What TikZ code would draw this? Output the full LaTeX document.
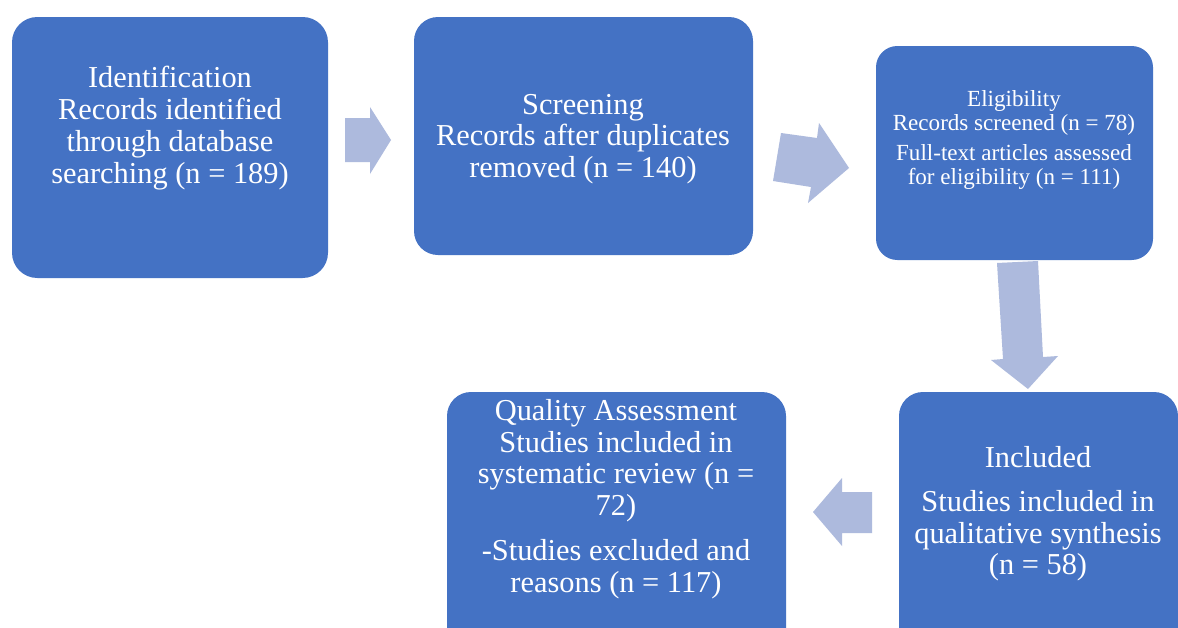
\documentclass[tikz,border=0pt]{standalone}
\usepackage{fontspec}
\setmainfont{Liberation Serif}
\usetikzlibrary{fit}
\definecolor{boxblue}{HTML}{4472C4}
\definecolor{arrowblue}{HTML}{ADBADD}
\begin{document}
\begin{tikzpicture}[x=0.75pt,y=-0.75pt,
  stagebox/.style={fill=boxblue, draw=none, inner sep=0pt, rounded corners=#1},
  stagetext/.style={text=white, align=center, inner sep=0pt,
    font=\fontsize{22.8}{23.8}\selectfont},
  smalltext/.style={text=white, align=center, inner sep=0pt,
    font=\fontsize{17.3}{18.4}\selectfont},
  blockarrow/.style={fill=arrowblue, draw=none}]
% page frame
\fill[white] (0,0) rectangle (1178,628);
\clip (0,0) rectangle (1178,628);

% stage boxes
\node[stagebox=19pt, fit={(12,17) (328,278)}] (ident) {};
\node[stagebox=18pt, fit={(414,17) (753,255)}] (screen) {};
\node[stagebox=16pt, fit={(876,46) (1153,260)}] (elig) {};
\node[stagebox=18pt, fit={(899,392) (1178,670)}] (incl) {};
\node[stagebox=18pt, fit={(447,392) (786,670)}] (quality) {};

% stage texts
\node[stagetext] (identtext) at (170,128)
  {Identification\\Records identified\\through database\\searching (n = 189)};
\node[stagetext] (screentext) at (583,139)
  {Screening\\Records after duplicates\\removed (n = 140)};
\node[smalltext] (eligtext) at (1014,140)
  {Eligibility\\Records screened (n = 78)\\[4pt]Full-text articles assessed\\for eligibility (n = 111)};
\node[stagetext] (incltext) at (1038,514)
  {Included\\[9pt]Studies included in\\qualitative synthesis\\(n = 58)};
\node[stagetext] (qualitytext) at (616,499)
  {Quality Assessment\\Studies included in\\systematic review (n =\\72)\\[10pt]-Studies excluded and\\reasons (n = 117)};

% block arrows between the stages
\fill[blockarrow] (345,118) -- (370,118) -- (370,107) -- (391,140)
  -- (370,174) -- (370,162) -- (345,162) -- cycle;
\fill[blockarrow] (781,133) -- (817,138) -- (819,123) -- (849,168)
  -- (808,203) -- (811,187) -- (773,181) -- cycle;
\fill[blockarrow] (997,263) -- (1038,261) -- (1043,357) -- (1058,356)
  -- (1028,389) -- (991,360) -- (1003,359) -- cycle;
\fill[blockarrow] (872,492) -- (842,492) -- (842,478) -- (813,512)
  -- (842,546) -- (842,533) -- (872,533) -- cycle;
\end{tikzpicture}
\end{document}
